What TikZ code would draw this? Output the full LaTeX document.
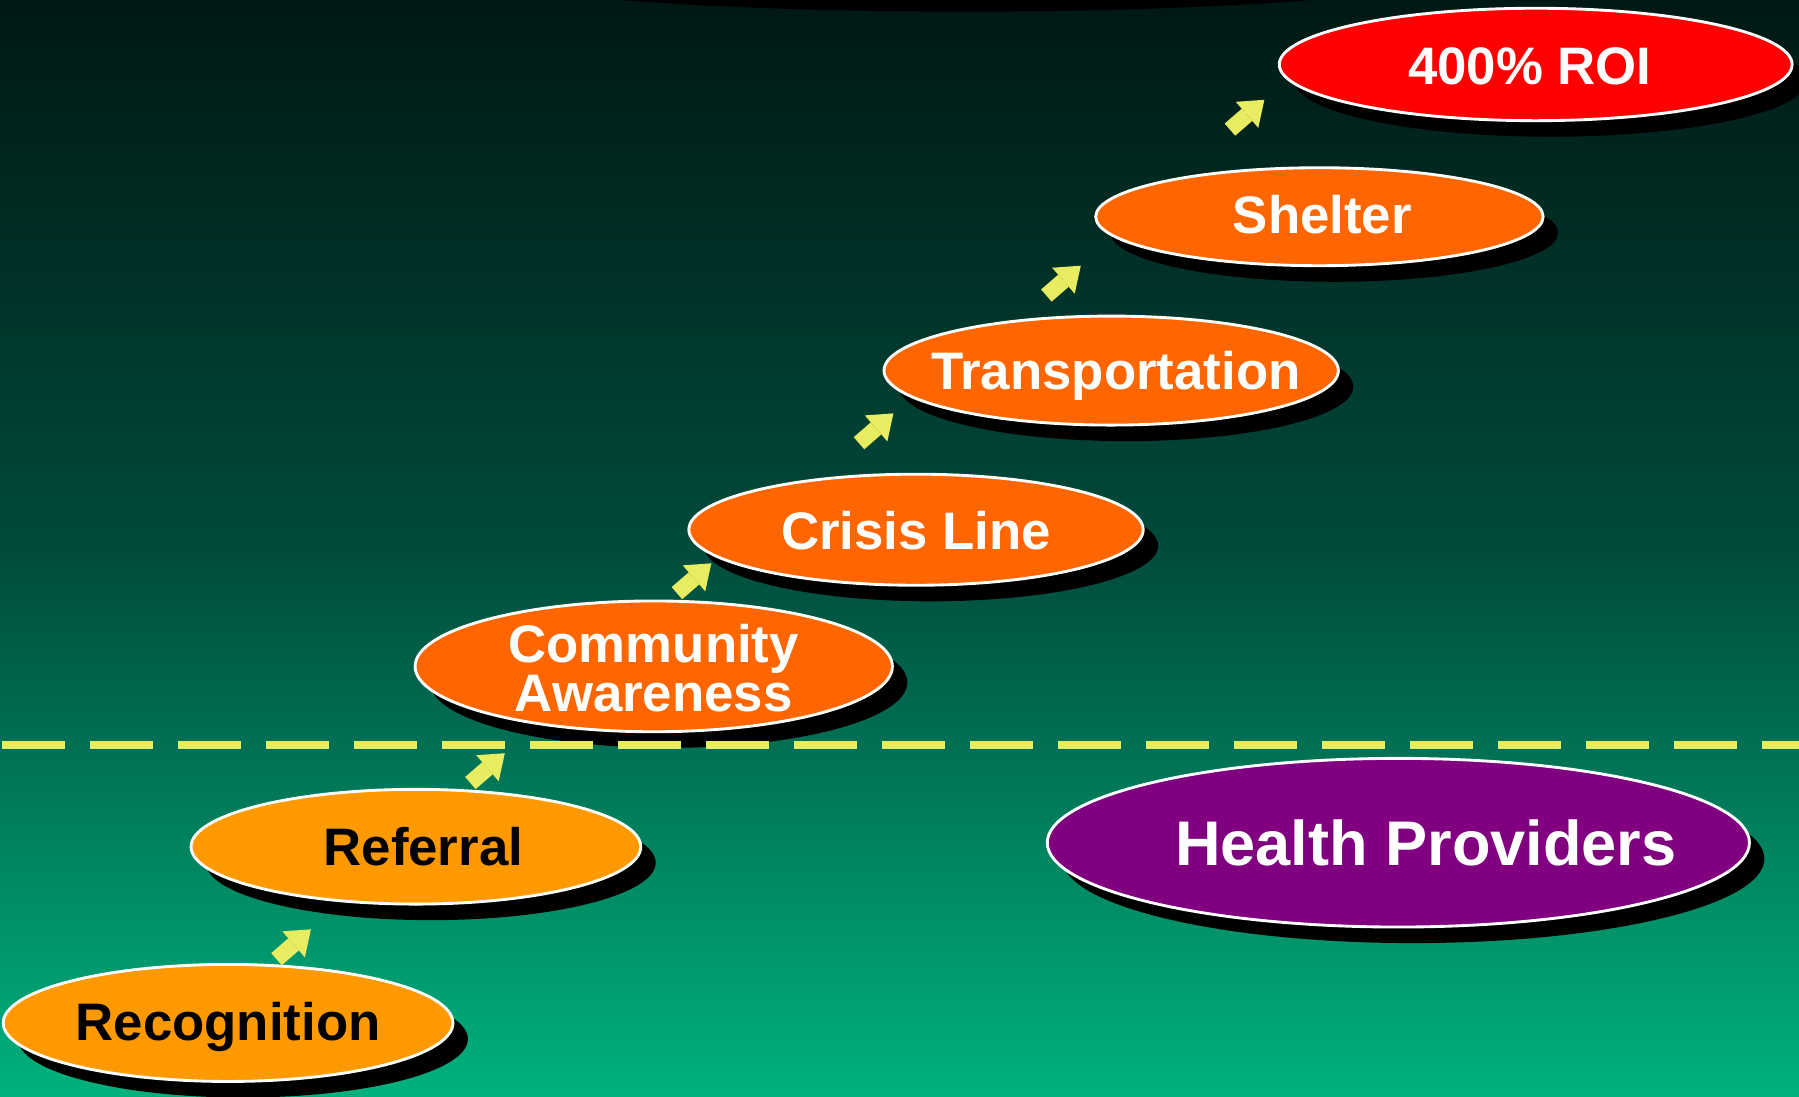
\documentclass[tikz,border=0pt]{standalone}
\usepackage{fontspec}
\setmainfont{Liberation Sans}
\usetikzlibrary{shapes.geometric,shadows,arrows.meta}
\definecolor{bgtop}{RGB}{0,24,20}
\definecolor{bgmid}{RGB}{0,75,60}
\definecolor{bgbot}{RGB}{0,178,125}
\definecolor{stepyellow}{RGB}{232,236,96}
\definecolor{steporange}{RGB}{255,102,0}
\definecolor{steplight}{RGB}{255,153,0}
\definecolor{roired}{RGB}{255,0,0}
\definecolor{provpurple}{RGB}{128,0,128}

\begin{document}
\begin{tikzpicture} [x=0.5pt,y=-0.5pt,
    stepnode/.style={ellipse,draw=white,line width=1.25pt,inner sep=0pt,fill=steporange,
      text=white,align=center,text depth=0pt,font=\fontsize{23pt}{19.6pt}\selectfont\bfseries,
      drop shadow={shadow xshift=6.5pt,shadow yshift=-7pt,fill=black,opacity=1}},
    lowstep/.style={stepnode,fill=steplight,text=black},
    steparrow/.style={{Triangle[width=15pt,length=10pt,line width=0pt]}-,line width=7pt,draw=stepyellow}]
      \clip (0,0) rectangle (1568,956);
      \shade [top color=bgtop,bottom color=bgbot,middle color=bgmid] (0,0) rectangle (1568,956);
      \fill [black] (842,-30) ellipse [x radius=452,y radius=40.2];

      \node [lowstep,minimum width=196pt,minimum height=51pt] (recog) at (198.8,891.6) {\makebox[0pt]{\raisebox{1.5pt}{Recognition}}};
      \node [lowstep,minimum width=196pt,minimum height=50pt] (referral) at (362.5,738) {\makebox[0pt]{\hspace*{6.5pt}Referral}};
      \node [stepnode,minimum width=208pt,minimum height=57pt] (aware) at (569.8,580.8) {\makebox[0pt]{\raisebox{-1.2pt}{Community}}\\\makebox[0pt]{\raisebox{-1.2pt}{Awareness}}};
      \node [stepnode,minimum width=198pt,minimum height=48.4pt] (crisis) at (798.4,461.7) {\makebox[0pt]{\raisebox{-1pt}{Crisis Line}}};
      \node [stepnode,minimum width=198pt,minimum height=47.5pt] (transport) at (968.5,323) {\makebox[0pt]{\hspace*{4pt}Transportation}};
      \node [stepnode,minimum width=195pt,minimum height=42.7pt] (shelter) at (1150,188.9) {\makebox[0pt]{\raisebox{2.3pt}{\hspace*{2.5pt}Shelter}}};
      \node [stepnode,fill=roired,minimum width=223.5pt,minimum height=49pt] (roi) at (1338.5,56.2) {\makebox[0pt]{\raisebox{-1.8pt}{400\% ROI\hspace*{5pt}}}};
      \node [stepnode,fill=provpurple,font=\fontsize{27.5pt}{30pt}\selectfont\bfseries,minimum width=306pt,minimum height=73.5pt] (providers) at (1218.8,734.5) {\makebox[0pt]{\hspace*{24pt}Health Providers}};

      \draw [stepyellow,line width=3.2pt,dash pattern=on 27.6pt off 10.75pt,dash phase=-0.75pt] (0,649.2) -- (1568,649.2);

      \foreach \i/\x/\y in {1/271/810,2/440/656.5,3/620/491,4/778.7/360.3,5/942/231.6,6/1102/87}
      {
        \coordinate (tip\i) at (\x,\y);
        \draw [steparrow] (tip\i) -- ++(-30,26);
      }
    \end{tikzpicture}
\end{document}
